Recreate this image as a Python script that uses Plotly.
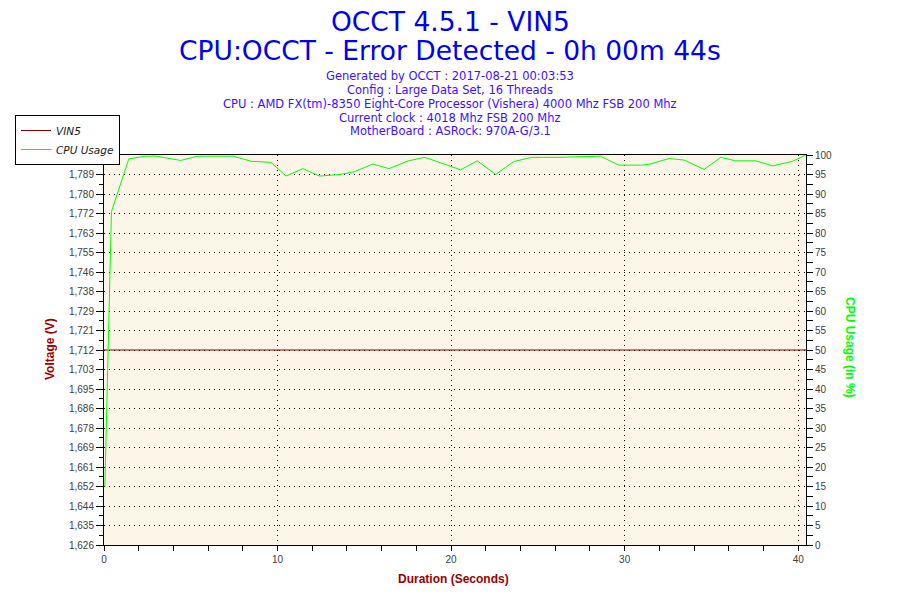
import plotly.graph_objects as go

# ---- data ----
cpu_time = [0.05, 0.43, 1.43, 2.4, 3.0, 4.42, 5.39, 7.43, 8.47, 9.62,
            10.49, 11.46, 12.42, 13.57, 14.42, 15.5, 16.42, 17.53, 18.49, 19.93,
            20.55, 21.51, 22.57, 23.6, 24.65, 26.2, 27.54, 28.6, 29.66, 31.01,
            31.49, 32.55, 33.42, 34.58, 35.54, 36.4, 37.56, 38.53, 39.68, 40.45]
cpu_usage = [15, 85.5, 99.0, 99.7, 99.7, 98.6, 99.7, 99.7, 98.4, 98.1,
             94.6, 96.5, 94.6, 95.0, 95.7, 97.7, 96.5, 98.5, 99.4, 97.3,
             96.2, 98.5, 95.0, 98.3, 99.4, 99.4, 99.6, 99.7, 97.4, 97.4,
             97.7, 99.1, 98.7, 96.3, 99.4, 98.5, 98.5, 97.2, 98.4, 100]
vin5_time = [0.0, 40.45]
vin5_volts = [1.712, 1.712]

title_main = "OCCT 4.5.1 - VIN5"
title_sub = "CPU:OCCT - Error Detected - 0h 00m 44s"
info_lines = [
    "Generated by OCCT : 2017-08-21 00:03:53",
    "Config : Large Data Set, 16 Threads",
    "CPU : AMD FX(tm)-8350 Eight-Core Processor (Vishera) 4000 Mhz FSB 200 Mhz",
    "Current clock : 4018 Mhz FSB 200 Mhz",
    "MotherBoard : ASRock: 970A-G/3.1",
]

v_min, v_max, v_step = 1.6264, 1.7976, 0.00856
x_max = 40.45

W, H = 900, 600
# target plot area in page pixels: x 104..806, y 155..545
L, T = 104, 155
R, B = W - 806, H - 545
PW, PH = 702, 390


def px(xp):
    return (xp - 104) / PW


def py(yp):
    return (545 - yp) / PH


tick_font = dict(family="Liberation Sans, Arial, sans-serif", size=10, color="#404040")
red = "#990000"
green = "#00FF00"

fig = go.Figure()
fig.add_trace(go.Scatter(x=vin5_time, y=vin5_volts, mode="lines", name="VIN5",
                         line=dict(color="#800000", width=1), yaxis="y"))
fig.add_trace(go.Scatter(x=cpu_time, y=cpu_usage, mode="lines", name="CPU Usage",
                         line=dict(color=green, width=1), yaxis="y2"))

annotations = [
    dict(text=title_main, x=px(450), y=py(21), font=dict(size=26.5, color="#0000EE",
         family="DejaVu Sans, Verdana, sans-serif")),
    dict(text=title_sub, x=px(450), y=py(50), font=dict(size=26.5, color="#0000EE",
         family="DejaVu Sans, Verdana, sans-serif")),
]
for line, yc in zip(info_lines, [76, 90, 104, 118, 131]):
    annotations.append(dict(text=line, x=px(450), y=py(yc),
                            font=dict(size=11.5, color="#4010FF",
                                      family="DejaVu Sans, Verdana, sans-serif")))
annotations += [
    dict(text="<b>Voltage (V)</b>", x=px(50), y=py(349), textangle=-90,
         font=dict(size=12, color=red, family="Liberation Sans, Arial, sans-serif")),
    dict(text="<b>CPU Usage (in %)</b>", x=px(850), y=py(347), textangle=90,
         font=dict(size=12, color=green, family="Liberation Sans, Arial, sans-serif")),
    dict(text="<b>Duration (Seconds)</b>", x=px(453), y=py(579),
         font=dict(size=12, color=red, family="Liberation Sans, Arial, sans-serif")),
]
for a in annotations:
    a.update(xref="paper", yref="paper", showarrow=False, xanchor="center", yanchor="middle")

fig.update_layout(
    width=W, height=H,
    margin=dict(l=L, r=R, t=T, b=B, pad=0),
    paper_bgcolor="white",
    plot_bgcolor="#FDF6E8",
    separators=",.",
    showlegend=True,
    legend=dict(x=px(15), y=py(115), xanchor="left", yanchor="top",
                bgcolor="white", bordercolor="black", borderwidth=1,
                font=dict(size=10.5, color="#202020", style="italic",
                          family="DejaVu Sans, Verdana, sans-serif"),
                tracegroupgap=0, itemwidth=30),
    xaxis=dict(range=[0, x_max], tick0=0, dtick=10, ticks="outside", ticklen=5,
               tickcolor="black", showline=True, linecolor="black", linewidth=1,
               mirror=True, showgrid=True, gridcolor="black", griddash="1px,4px",
               gridwidth=1, zeroline=False, tickfont=tick_font,
               minor=dict(dtick=2, ticks="outside", ticklen=5, tickcolor="black",
                          showgrid=False)),
    xaxis2=dict(range=[0, x_max], overlaying="x", anchor="y", side="bottom",
                dtick=2, ticks="inside", ticklen=4, tickcolor="black",
                showticklabels=False, showgrid=False, zeroline=False, showline=False),
    yaxis=dict(range=[v_min, v_max], tick0=v_min, dtick=v_step, tickformat=".3f",
               ticks="outside", ticklen=7, tickcolor="black", showline=True,
               linecolor="black", linewidth=1, showgrid=True, gridcolor="black",
               griddash="1px,4px", gridwidth=1, zeroline=False, tickfont=tick_font,
               minor=dict(tick0=v_min, dtick=v_step / 2, ticks="outside", ticklen=4,
                          tickcolor="black", showgrid=False)),
    yaxis2=dict(range=[0, 100], overlaying="y", side="right", anchor="x",
                tick0=0, dtick=5, ticks="outside", ticklen=6, tickcolor="black",
                showline=True, linecolor="black", linewidth=1, showgrid=False,
                zeroline=False, tickfont=tick_font,
                minor=dict(dtick=2.5, ticks="outside", ticklen=6, tickcolor="black")),
    yaxis3=dict(range=[v_min, v_max], overlaying="y", side="left", anchor="x",
                tick0=v_min, dtick=v_step, ticks="inside", ticklen=4, tickcolor="black",
                showticklabels=False, showgrid=False, zeroline=False, showline=False),
    yaxis4=dict(range=[0, 100], overlaying="y", side="right", anchor="x",
                tick0=0, dtick=5, ticks="inside", ticklen=6, tickcolor="black",
                showticklabels=False, showgrid=False, zeroline=False, showline=False),
    annotations=annotations,
)

fig.write_html("out.html", config={"displayModeBar": False},
               post_script="document.body.style.margin='0';document.body.style.padding='0';")
